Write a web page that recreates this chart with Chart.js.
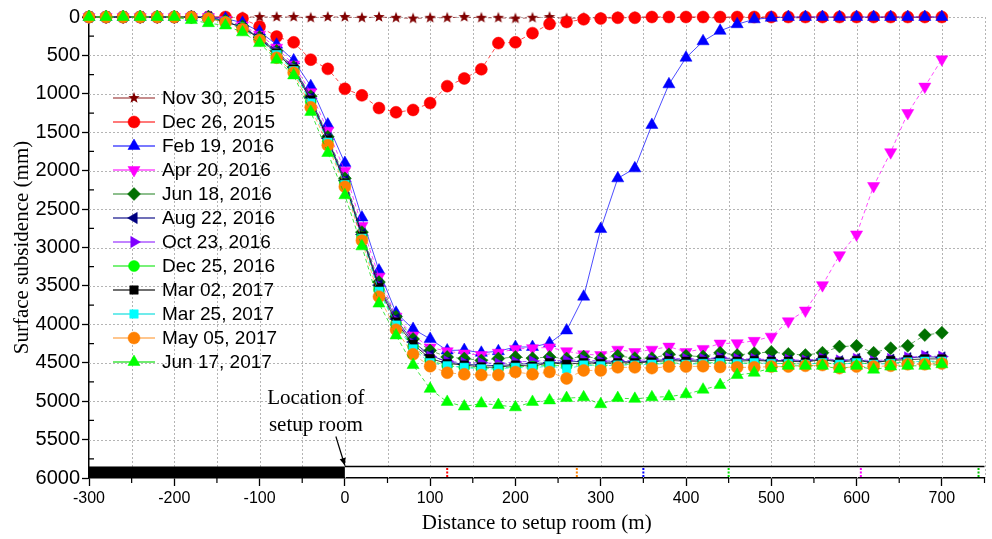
<!DOCTYPE html>
<html lang="en">
<head>
<meta charset="UTF-8">
<title>Surface subsidence</title>
<script src="https://cdn.jsdelivr.net/npm/chart.js@4.4.1/dist/chart.umd.min.js"></script>
<style>
  html, body { margin: 0; padding: 0; background: #fff; }
  #chart { display: block; }
</style>
</head>
<body>
<canvas id="chart" width="992" height="539"></canvas>
<script>
// distance to setup room (m), one survey point every 20 m
const distance = [-300, -280, -260, -240, -220, -200, -180, -160, -140, -120,
  -100, -80, -60, -40, -20, 0, 20, 40, 60, 80,
  100, 120, 140, 160, 180, 200, 220, 240, 260, 280,
  300, 320, 340, 360, 380, 400, 420, 440, 460, 480,
  500, 520, 540, 560, 580, 600, 620, 640, 660, 680, 700];

// surface subsidence (mm) per survey
const nov30_2015 = [0, 0, 0, 0, 0, 0, 0, 0, 0, 0,
  0, 0, 0, 10, 0, 0, 10, 0, 10, 20,
  10, 10, 0, 10, 10, 20, 10, 0, 20, 10,
  10, 0, 0, 0, 10, 0, 10, 10, 0, 10,
  0, 10, 10, 0, 10, 10, 0, 10, 10, 0, 10];
const dec26_2015 = [0, 0, 0, 0, 0, 0, 0, 0, 0, 20,
  125, 255, 330, 555, 675, 935, 1020, 1185, 1240, 1210,
  1120, 900, 800, 680, 340, 330, 210, 90, 65, 30,
  20, 10, 10, 0, 0, 0, 0, 0, 0, 0,
  0, 0, 0, 0, 0, 0, 0, 0, 0, 0, 0];
const feb19_2016 = [0, 0, 0, 0, 0, 0, 0, 0, 20, 75,
  190, 360, 565, 900, 1400, 1900, 2610, 3300, 3850, 4060,
  4190, 4340, 4335, 4370, 4350, 4295, 4295, 4245, 4080, 3640,
  2760, 2100, 1970, 1405, 876, 530, 316, 180, 94, 30,
  10, 0, 0, 0, 0, 0, 0, 0, 0, 0, 0];
const apr20_2016 = [0, 0, 0, 0, 0, 0, 0, 0, 40, 110,
  230, 400, 620, 980, 1480, 2000, 2720, 3380, 3900, 4145,
  4300, 4350, 4380, 4400, 4370, 4320, 4310, 4300, 4350, 4390,
  4400, 4330, 4360, 4330, 4290, 4360, 4320, 4250, 4245, 4215,
  4160, 3960, 3820, 3490, 3100, 2830, 2200, 1760, 1250, 906, 550];
const jun18_2016 = [0, 0, 0, 0, 0, 0, 0, 0, 50, 120,
  260, 440, 650, 1030, 1560, 2100, 2800, 3450, 3900, 4190,
  4340, 4425, 4445, 4470, 4445, 4425, 4440, 4425, 4445, 4420,
  4445, 4410, 4440, 4440, 4390, 4410, 4420, 4370, 4400, 4375,
  4360, 4385, 4400, 4370, 4290, 4280, 4370, 4310, 4280, 4140, 4110];
const aug22_2016 = [0, 0, 0, 0, 0, 0, 0, 0, 60, 130,
  270, 450, 660, 1050, 1580, 2130, 2830, 3490, 3930, 4230,
  4400, 4490, 4520, 4530, 4540, 4520, 4510, 4500, 4490, 4480,
  4500, 4480, 4490, 4480, 4450, 4470, 4460, 4440, 4460, 4460,
  4470, 4470, 4480, 4450, 4480, 4450, 4500, 4460, 4440, 4420, 4430];
const oct23_2016 = [0, 0, 0, 0, 0, 0, 0, 0, 60, 130,
  275, 455, 665, 1060, 1590, 2140, 2840, 3500, 3950, 4250,
  4420, 4480, 4500, 4500, 4510, 4490, 4480, 4470, 4470, 4460,
  4480, 4470, 4470, 4460, 4440, 4450, 4450, 4430, 4450, 4450,
  4460, 4460, 4470, 4440, 4470, 4450, 4480, 4450, 4430, 4410, 4420];
const dec25_2016 = [0, 0, 0, 0, 0, 0, 10, 20, 60, 140,
  290, 480, 690, 1100, 1620, 2170, 2860, 3550, 3990, 4290,
  4470, 4540, 4560, 4570, 4570, 4550, 4550, 4530, 4540, 4520,
  4540, 4520, 4520, 4510, 4500, 4510, 4500, 4500, 4510, 4500,
  4510, 4510, 4520, 4500, 4520, 4500, 4520, 4500, 4490, 4490, 4490];
const mar02_2017 = [0, 0, 0, 0, 0, 0, 0, 10, 60, 140,
  280, 470, 680, 1080, 1600, 2160, 2850, 3520, 3970, 4260,
  4445, 4510, 4530, 4555, 4560, 4530, 4545, 4500, 4520, 4500,
  4510, 4500, 4500, 4490, 4470, 4480, 4480, 4460, 4480, 4470,
  4480, 4480, 4490, 4460, 4490, 4470, 4500, 4470, 4460, 4450, 4450];
const mar25_2017 = [0, 0, 0, 0, 0, 0, 0, 10, 60, 150,
  290, 490, 700, 1120, 1630, 2180, 2880, 3570, 4010, 4320,
  4500, 4540, 4560, 4580, 4580, 4560, 4570, 4540, 4580, 4530,
  4540, 4530, 4530, 4520, 4510, 4520, 4510, 4500, 4510, 4500,
  4510, 4510, 4520, 4500, 4520, 4500, 4520, 4510, 4490, 4480, 4480];
const may05_2017 = [0, 0, 0, 0, 0, 0, 0, 20, 70, 160,
  300, 530, 725, 1175, 1670, 2210, 2910, 3640, 4070, 4390,
  4545, 4630, 4650, 4660, 4660, 4620, 4650, 4620, 4705, 4600,
  4600, 4560, 4560, 4570, 4550, 4550, 4545, 4555, 4560, 4560,
  4550, 4550, 4540, 4530, 4570, 4550, 4550, 4540, 4520, 4520, 4510];
const jun17_2017 = [0, 0, 0, 0, 0, 0, 40, 80, 110, 200,
  340, 555, 760, 1235, 1770, 2320, 2985, 3730, 4145, 4530,
  4840, 5010, 5070, 5030, 5050, 5080, 5010, 4990, 4960, 4950,
  5040, 4960, 4970, 4950, 4940, 4910, 4850, 4790, 4660, 4630,
  4570, 4540, 4540, 4540, 4580, 4540, 4590, 4550, 4540, 4540, 4520];

const surveyDates = ['Nov 30, 2015', 'Dec 26, 2015', 'Feb 19, 2016', 'Apr 20, 2016',
  'Jun 18, 2016', 'Aug 22, 2016', 'Oct 23, 2016', 'Dec 25, 2016',
  'Mar 02, 2017', 'Mar 25, 2017', 'May 05, 2017', 'Jun 17, 2017'];
const surveys = [nov30_2015, dec26_2015, feb19_2016, apr20_2016, jun18_2016, aug22_2016,
  oct23_2016, dec25_2016, mar02_2017, mar25_2017, may05_2017, jun17_2017];

// working face position (m) marked in the strip under the curves
const faceDistance = [120, 272, 350, 450, 605, 743];
const faceColors = ['#ff0000', '#ff8000', '#0000ff', '#00e000', '#ff00ff', '#00c000'];
const setupRoomBandTop = 5850;

// marker / line styling
const markerColors = ['#800000', '#ff0000', '#0000ff', '#ff00ff', '#007000', '#000080',
  '#8000ff', '#00ff00', '#000000', '#00ffff', '#ff8000', '#00ff00'];
const lineColors = ['rgba(128,0,0,0.6)', 'rgba(255,0,0,0.7)', 'rgba(0,0,255,0.7)',
  'rgba(255,0,255,0.7)', 'rgba(0,112,0,0.6)', 'rgba(0,0,128,0.75)', 'rgba(128,0,255,0.65)',
  'rgba(0,230,0,0.7)', 'rgba(0,0,0,0.75)', 'rgba(0,220,220,0.75)', 'rgba(255,128,0,0.6)',
  'rgba(0,220,0,0.75)'];
const markerShapes = ['star', 'circle', 'triangle', 'triangle', 'rectRot', 'triangle',
  'triangle', 'circle', 'rect', 'rect', 'circle', 'triangle'];
const markerRotation = [0, 0, 0, 180, 0, 270, 90, 0, 0, 0, 0, 0];
const markerRadius = [6, 6, 7, 7, 6.5, 6.5, 6.5, 5.5, 6, 6, 6, 7];
const solidLine = [false, false, true, false, false, true, false, false, true, false, false, false];

function starMarker(color, r) {
  const c = document.createElement('canvas');
  c.width = c.height = Math.ceil(r * 2 + 2);
  const g = c.getContext('2d');
  const cx = c.width / 2, cy = c.height / 2;
  g.beginPath();
  for (let k = 0; k < 10; k++) {
    const rr = k % 2 === 0 ? r : r * 0.42;
    const a = -Math.PI / 2 + k * Math.PI / 5;
    g.lineTo(cx + rr * Math.cos(a), cy + rr * Math.sin(a));
  }
  g.closePath();
  g.fillStyle = color;
  g.fill();
  return c;
}

const datasets = surveys.map((vals, i) => ({
  label: surveyDates[i],
  data: vals.map((v, j) => ({ x: distance[j], y: v })),
  borderColor: lineColors[i],
  borderWidth: 1,
  borderDash: solidLine[i] ? [] : [4, 3],
  pointStyle: markerShapes[i] === 'star' ? starMarker(markerColors[i], markerRadius[i]) : markerShapes[i],
  pointRotation: markerRotation[i],
  pointRadius: markerRadius[i],
  pointBackgroundColor: markerColors[i],
  pointBorderColor: markerColors[i],
  pointBorderWidth: 0.5,
  order: surveys.length - i,
  clip: false
}));

const serif = '"Liberation Serif", "Times New Roman", serif';
const sans = '"Liberation Sans", Arial, sans-serif';

// dotted grid, drawn by hand so the dots stay crisp
const dottedGrid = {
  id: 'dottedGrid',
  beforeDatasetsDraw(chart) {
    const { ctx, chartArea, scales: { x, y } } = chart;
    ctx.save();
    ctx.strokeStyle = '#b4b4b4';
    ctx.lineWidth = 1;
    ctx.setLineDash([2, 2]);
    ctx.beginPath();
    x.ticks.forEach(t => {
      const px = Math.round(x.getPixelForValue(t.value)) + 0.5;
      if (px <= chartArea.left + 1) return;
      ctx.moveTo(px, chartArea.top);
      ctx.lineTo(px, chartArea.bottom);
    });
    y.ticks.forEach(t => {
      if (t.value % 500 !== 0 || t.value >= 6000) return;
      const py = Math.round(y.getPixelForValue(t.value)) + 0.5;
      ctx.moveTo(chartArea.left, py);
      ctx.lineTo(chartArea.right, py);
    });
    ctx.stroke();
    ctx.restore();
  }
};

// legend drawn inside the plot, upper left
const insideLegend = {
  id: 'insideLegend',
  afterDraw(chart) {
    const { ctx, chartArea } = chart;
    ctx.save();
    ctx.font = '19px ' + sans;
    ctx.textBaseline = 'middle';
    chart.data.datasets.forEach((ds, i) => {
      const y = chartArea.top + 81 + i * 24;
      const x0 = chartArea.left + 24;
      ctx.setLineDash([]);
      ctx.strokeStyle = ds.borderColor;
      ctx.lineWidth = 1.3;
      ctx.beginPath();
      ctx.moveTo(x0, y);
      ctx.lineTo(x0 + 42, y);
      ctx.stroke();
      ctx.fillStyle = ds.pointBackgroundColor;
      ctx.strokeStyle = ds.pointBorderColor;
      ctx.lineWidth = ds.pointBorderWidth;
      Chart.helpers.drawPoint(ctx, {
        pointStyle: ds.pointStyle, rotation: ds.pointRotation,
        radius: ds.pointRadius, borderWidth: ds.pointBorderWidth
      }, x0 + 21, y);
      ctx.fillStyle = '#000';
      ctx.fillText(ds.label, x0 + 49, y + 1);
    });
    ctx.restore();
  }
};

// setup-room strip along the bottom plus face position marks
const setupRoomStrip = {
  id: 'setupRoomStrip',
  beforeDatasetsDraw(chart) {
    const { ctx, chartArea, scales: { x, y } } = chart;
    const top = y.getPixelForValue(setupRoomBandTop);
    const bottom = y.getPixelForValue(6000);
    const x0 = x.getPixelForValue(0);
    ctx.save();
    ctx.fillStyle = '#fff';
    ctx.fillRect(x0, top, chartArea.right - x0, bottom - top - 1);
    ctx.fillStyle = '#000';
    ctx.fillRect(x.getPixelForValue(-300), top, x0 - x.getPixelForValue(-300), bottom - top);
    ctx.strokeStyle = '#000';
    ctx.lineWidth = 1.5;
    ctx.beginPath();
    ctx.moveTo(x0, top);
    ctx.lineTo(chartArea.right, top);
    ctx.stroke();
    ctx.lineWidth = 2;
    ctx.setLineDash([2, 1.5]);
    faceDistance.forEach((d, i) => {
      const px = x.getPixelForValue(d);
      ctx.strokeStyle = faceColors[i];
      ctx.beginPath();
      ctx.moveTo(px, top + 1.5);
      ctx.lineTo(px, bottom - 1);
      ctx.stroke();
    });
    ctx.restore();
  },
  afterDraw(chart) {
    const { ctx, scales: { x, y } } = chart;
    const tx = x.getPixelForValue(0);
    const ty = y.getPixelForValue(setupRoomBandTop);
    ctx.save();
    ctx.fillStyle = '#000';
    ctx.font = '21px ' + serif;
    ctx.textAlign = 'center';
    ctx.textBaseline = 'middle';
    ctx.fillText('Location of', tx - 29, ty - 68);
    ctx.fillText('setup room', tx - 29, ty - 41);
    // arrow
    const sx = tx - 9, sy = ty - 30;
    ctx.strokeStyle = '#000';
    ctx.lineWidth = 1.2;
    ctx.beginPath();
    ctx.moveTo(sx, sy);
    ctx.lineTo(tx, ty - 1);
    ctx.stroke();
    const ang = Math.atan2(ty - 1 - sy, tx - sx);
    ctx.beginPath();
    ctx.moveTo(tx, ty - 1);
    ctx.lineTo(tx - 8 * Math.cos(ang - 0.4), ty - 1 - 8 * Math.sin(ang - 0.4));
    ctx.lineTo(tx - 8 * Math.cos(ang + 0.4), ty - 1 - 8 * Math.sin(ang + 0.4));
    ctx.closePath();
    ctx.fill();
    ctx.restore();
  }
};

// short minor ticks: x every 50 m outward, y every 250 mm inward
const minorTicks = {
  id: 'minorTicks',
  afterDraw(chart) {
    const { ctx, chartArea, scales: { x, y } } = chart;
    ctx.save();
    ctx.strokeStyle = '#000';
    ctx.lineWidth = 1.2;
    ctx.beginPath();
    x.ticks.forEach(t => {
      if (t.value % 100 !== 0) {
        const px = x.getPixelForValue(t.value);
        ctx.moveTo(px, chartArea.bottom);
        ctx.lineTo(px, chartArea.bottom + 5);
      }
    });
    y.ticks.forEach(t => {
      if (t.value % 500 !== 0) {
        const py = y.getPixelForValue(t.value);
        ctx.moveTo(chartArea.left, py);
        ctx.lineTo(chartArea.left + 5, py);
      }
    });
    ctx.stroke();
    ctx.restore();
  }
};

new Chart(document.getElementById('chart').getContext('2d'), {
  type: 'line',
  data: { datasets: datasets },
  options: {
    responsive: false,
    animation: false,
    layout: { padding: { top: 17, right: 4, left: 0, bottom: 0 } },
    plugins: { legend: { display: false }, tooltip: { enabled: false } },
    scales: {
      x: {
        type: 'linear', min: -300, max: 750,
        afterFit: s => { s.height = 61; },
        ticks: {
          stepSize: 50, autoSkip: false, maxRotation: 0, padding: 3, color: '#000',
          font: { family: sans, size: 16 },
          callback: v => (v % 100 === 0 ? String(v) : '')
        },
        grid: {
          drawOnChartArea: false, tickLength: 8, tickWidth: 1.3, tickBorderDash: [],
          tickColor: c => (c.tick && c.tick.value % 100 === 0 ? '#000' : 'rgba(0,0,0,0)')
        },
        border: { color: '#000', width: 1.5 },
        title: {
          display: true, text: 'Distance to setup room (m)', color: '#000',
          font: { family: serif, size: 21 }, padding: { top: 0, bottom: 3 }
        }
      },
      y: {
        type: 'linear', min: 0, max: 6000, reverse: true,
        afterFit: s => { s.width = 89; },
        ticks: {
          stepSize: 250, autoSkip: false, padding: 2, color: '#000',
          font: { family: sans, size: 20 },
          callback: v => (v % 500 === 0 ? String(v) : '')
        },
        grid: {
          drawOnChartArea: false, tickLength: 7, tickWidth: 1.3, tickBorderDash: [],
          tickColor: c => (c.tick && c.tick.value % 500 === 0 ? '#000' : 'rgba(0,0,0,0)')
        },
        border: { color: '#000', width: 1.5 },
        title: {
          display: true, text: 'Surface subsidence (mm)', color: '#000',
          font: { family: serif, size: 21 }, padding: { top: 10, bottom: 0 }
        }
      }
    }
  },
  plugins: [dottedGrid, setupRoomStrip, minorTicks, insideLegend]
});
</script>
</body>
</html>
